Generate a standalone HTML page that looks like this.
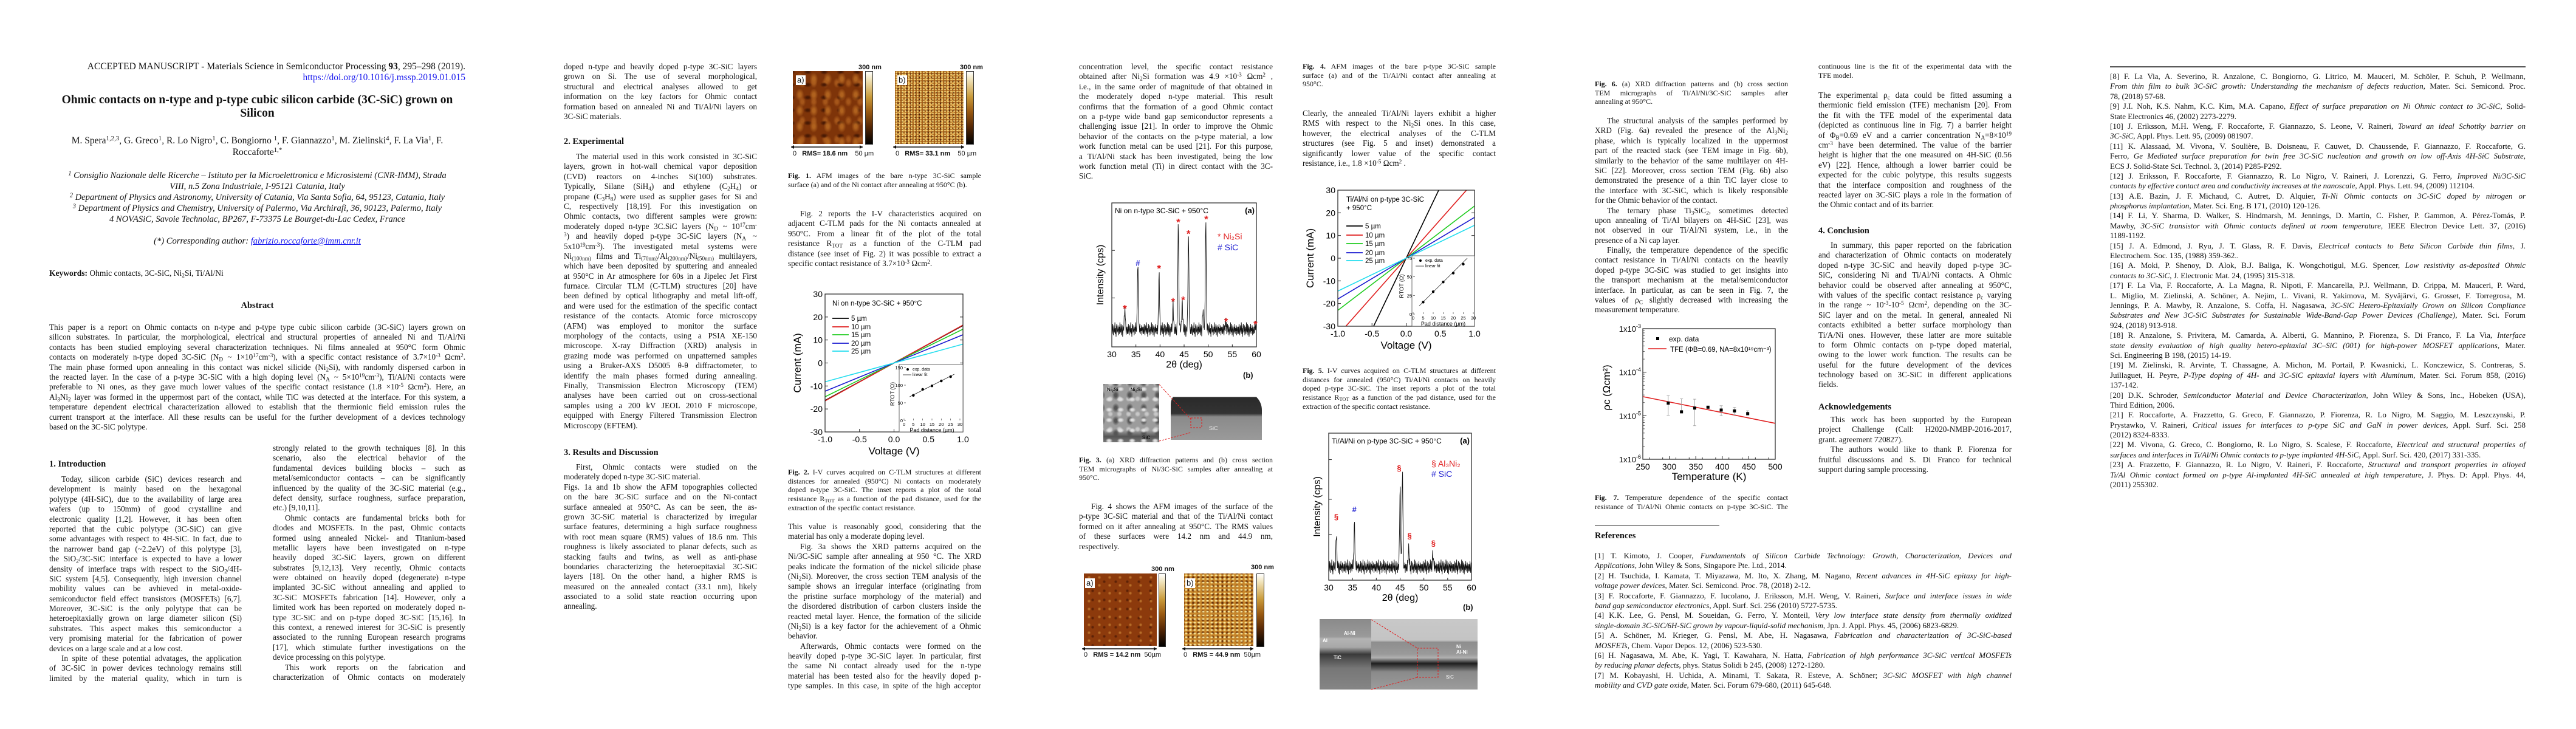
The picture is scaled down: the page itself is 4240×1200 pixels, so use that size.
<!DOCTYPE html>
<html><head><meta charset="utf-8"><title>Ohmic contacts on n-type and p-type 3C-SiC</title>
<style>
html,body{margin:0;padding:0;background:#fff;}
body{width:4240px;height:1200px;position:relative;overflow:hidden;font-family:"Liberation Serif",serif;color:#111;}
.col{position:absolute;font-size:13.2px;line-height:16.4px;}
.l{display:block;white-space:nowrap;text-align:justify;text-align-last:justify;height:16.4px;}
.e{text-align-last:left;}
.i{text-indent:20px;}
.cap{position:absolute;font-size:12px;line-height:14.7px;}
.cap .l{height:14.7px;}
.h{position:absolute;font-weight:bold;font-size:14.5px;line-height:16px;}
sub{font-size:70%;line-height:0;vertical-align:-0.25em;}
sup{font-size:70%;line-height:0;vertical-align:0.45em;}
.ctr{position:absolute;text-align:center;}
a{color:#1a1aee;}
.img{position:absolute;}
.lab{position:absolute;font-family:"Liberation Sans",sans-serif;font-size:11px;white-space:nowrap;}
.rms{position:absolute;font-family:"Liberation Sans",sans-serif;font-size:11px;font-weight:bold;white-space:nowrap;}
.tag{position:absolute;background:#fff;font-family:"Liberation Sans",sans-serif;font-size:13px;padding:0 2px;line-height:16px;}
.cbar{position:absolute;border:1px solid #333;background:linear-gradient(to bottom,#fff 0%,#f2e6c0 10%,#c99a3a 35%,#9a5a12 55%,#5a2a06 75%,#000 100%);}
</style></head>
<body>

<!-- PAGE 1 -->
<div class="ctr" style="left:81px;width:685px;top:101px;font-size:15.5px;line-height:18px;text-align:right;">ACCEPTED MANUSCRIPT - Materials Science in Semiconductor Processing <b>93</b>, 295–298 (2019).<br><a>https://doi.org/10.1016/j.mssp.2019.01.015</a></div>
<div class="ctr" style="left:81px;width:685px;top:154px;font-size:19.5px;line-height:22px;font-weight:bold;">Ohmic contacts on n-type and p-type cubic silicon carbide (3C-SiC) grown on<br>Silicon</div>
<div class="ctr" style="left:81px;width:685px;top:222px;font-size:15.5px;line-height:19px;">M. Spera<sup>1,2,3</sup>, G. Greco<sup>1</sup>, R. Lo Nigro<sup>1</sup>, C. Bongiorno <sup>1</sup>, F. Giannazzo<sup>1</sup>, M. Zielinski<sup>4</sup>, F. La Via<sup>1</sup>, F.<br>Roccaforte<sup>1,*</sup></div>
<div class="ctr" style="left:81px;width:685px;top:280px;font-size:14.6px;line-height:18px;font-style:italic;"><sup>1</sup> Consiglio Nazionale delle Ricerche – Istituto per la Microelettronica e Microsistemi (CNR-IMM), Strada<br>VIII, n.5 Zona Industriale, I-95121 Catania, Italy<br><sup>2</sup> Department of Physics and Astronomy, University of Catania, Via Santa Sofia, 64, 95123, Catania, Italy<br><sup>3</sup> Department of Physics and Chemistry, University of Palermo, Via Archirafi, 36, 90123, Palermo, Italy<br>4 NOVASiC, Savoie Technolac, BP267, F-73375 Le Bourget-du-Lac Cedex, France</div>
<div class="ctr" style="left:81px;width:685px;top:388px;font-size:14.6px;line-height:18px;font-style:italic;">(*) Corresponding author: <a style="text-decoration:underline;">fabrizio.roccaforte@imm.cnr.it</a></div>
<div class="col" style="left:81px;top:442px;font-size:13.5px;"><b>Keywords:</b> Ohmic contacts, 3C-SiC, Ni<sub>2</sub>Si, Ti/Al/Ni</div>
<div class="h" style="left:81px;width:685px;top:495px;text-align:center;">Abstract</div>
<div class="col" style="left:81px;width:685px;top:531px;line-height:16.7px;">
<span class="l">This paper is a report on Ohmic contacts on n-type and p-type type cubic silicon carbide (3C-SiC) layers grown on</span>
<span class="l">silicon substrates. In particular, the morphological, electrical and structural properties of annealed Ni and Ti/Al/Ni</span>
<span class="l">contacts has been studied employing several characterization techniques. Ni films annealed at 950°C form Ohmic</span>
<span class="l">contacts on moderately n-type doped 3C-SiC (N<sub>D</sub> ~ 1×10<sup>17</sup>cm<sup>-3</sup>), with a specific contact resistance of 3.7×10<sup>-3</sup> Ωcm<sup>2</sup>.</span>
<span class="l">The main phase formed upon annealing in this contact was nickel silicide (Ni<sub>2</sub>Si), with randomly dispersed carbon in</span>
<span class="l">the reacted layer. In the case of a p-type 3C-SiC with a high doping level (N<sub>A</sub> ~ 5×10<sup>19</sup>cm<sup>-3</sup>), Ti/Al/Ni contacts were</span>
<span class="l">preferable to Ni ones, as they gave much lower values of the specific contact resistance (1.8 ×10<sup>-5</sup> Ωcm<sup>2</sup>). Here, an</span>
<span class="l">Al<sub>3</sub>Ni<sub>2</sub> layer was formed in the uppermost part of the contact, while TiC was detected at the interface. For this system, a</span>
<span class="l">temperature dependent electrical characterization allowed to establish that the thermionic field emission rules the</span>
<span class="l">current transport at the interface. All these results can be useful for the further development of a devices technology</span>
<span class="l e">based on the 3C-SiC polytype.</span>
</div>
<div class="h" style="left:81px;top:756px;">1. Introduction</div>
<div class="col" style="left:81px;width:317px;top:781px;">
<span class="l i">Today, silicon carbide (SiC) devices research and</span>
<span class="l">development is mainly based on the hexagonal</span>
<span class="l">polytype (4H-SiC), due to the availability of large area</span>
<span class="l">wafers (up to 150mm) of good crystalline and</span>
<span class="l">electronic quality [1,2]. However, it has been often</span>
<span class="l">reported that the cubic polytype (3C-SiC) can give</span>
<span class="l">some advantages with respect to 4H-SiC. In fact, due to</span>
<span class="l">the narrower band gap (~2.2eV) of this polytype [3],</span>
<span class="l">the SiO<sub>2</sub>/3C-SiC interface is expected to have a lower</span>
<span class="l">density of interface traps with respect to the SiO<sub>2</sub>/4H-</span>
<span class="l">SiC system [4,5]. Consequently, high inversion channel</span>
<span class="l">mobility values can be avhieved in metal-oxide-</span>
<span class="l">semiconductor field effect transistors (MOSFETs) [6,7].</span>
<span class="l">Moreover, 3C-SiC is the only polytype that can be</span>
<span class="l">heteroepitaxially grown on large diameter silicon (Si)</span>
<span class="l">substrates. This aspect makes this semiconductor a</span>
<span class="l">very promising material for the fabrication of power</span>
<span class="l e">devices on a large scale and at a low cost.</span>
<span class="l i">In spite of these potential advatages, the application</span>
<span class="l">of 3C-SiC in power devices technology remains still</span>
<span class="l">limited by the material quality, which in turn is</span>
</div>
<div class="col" style="left:449px;width:317px;top:730px;">
<span class="l">strongly related to the growth techniques [8]. In this</span>
<span class="l">scenario, also the electrical behavior of the</span>
<span class="l">fundamental devices building blocks – such as</span>
<span class="l">metal/semiconductor contacts – can be significantly</span>
<span class="l">influenced by the quality of the 3C-SiC material (e.g.,</span>
<span class="l">defect density, surface roughness, surface preparation,</span>
<span class="l e">etc.) [9,10,11].</span>
<span class="l i">Ohmic contacts are fundamental bricks both for</span>
<span class="l">diodes and MOSFETs. In the past, Ohmic contacts</span>
<span class="l">formed using annealed Nickel- and Titanium-based</span>
<span class="l">metallic layers have been investigated on n-type</span>
<span class="l">heavily doped 3C-SiC layers, grown on different</span>
<span class="l">substrates [9,12,13]. Very recently, Ohmic contacts</span>
<span class="l">were obtained on heavily doped (degenerate) n-type</span>
<span class="l">implanted 3C-SiC without annealing and applied to</span>
<span class="l">3C-SiC MOSFETs fabrication [14]. However, only a</span>
<span class="l">limited work has been reported on moderately doped n-</span>
<span class="l">type 3C-SiC and on p-type doped 3C-SiC [15,16]. In</span>
<span class="l">this context, a renewed interest for 3C-SiC is presently</span>
<span class="l">associated to the running European research programs</span>
<span class="l">[17], which stimulate further investigations on the</span>
<span class="l e">device processing on this polytype.</span>
<span class="l i">This work reports on the fabrication and</span>
<span class="l">characterization of Ohmic contacts on moderately</span>
</div>

<!-- PAGE 2 -->
<div class="col" style="left:928px;width:318px;top:102px;">
<span class="l">doped n-type and heavily doped p-type 3C-SiC layers</span>
<span class="l">grown on Si. The use of several morphological,</span>
<span class="l">structural and electrical analyses allowed to get</span>
<span class="l">information on the key factors for Ohmic contact</span>
<span class="l">formation based on annealed Ni and Ti/Al/Ni layers on</span>
<span class="l e">3C-SiC materials.</span>
</div>
<div class="h" style="left:928px;top:225px;">2. Experimental</div>
<div class="col" style="left:928px;width:318px;top:250px;">
<span class="l i">The material used in this work consisted in 3C-SiC</span>
<span class="l">layers, grown in hot-wall chemical vapor deposition</span>
<span class="l">(CVD) reactors on 4-inches Si(100) substrates.</span>
<span class="l">Typically, Silane (SiH<sub>4</sub>) and ethylene (C<sub>2</sub>H<sub>4</sub>) or</span>
<span class="l">propane (C<sub>3</sub>H<sub>8</sub>) were used as supplier gases for Si and</span>
<span class="l">C, respectively [18,19]. For this investigation on</span>
<span class="l">Ohmic contacts, two different samples were grown:</span>
<span class="l">moderately doped n-type 3C.SiC layers (N<sub>D</sub> ~ 10<sup>17</sup>cm<sup>-</sup></span>
<span class="l"><sup>3</sup>) and heavily doped p-type 3C-SiC layers (N<sub>A</sub> ~</span>
<span class="l">5x10<sup>19</sup>cm<sup>-3</sup>). The investigated metal systems were</span>
<span class="l">Ni<sub>(100nm)</sub> films and Ti<sub>(70nm)</sub>/Al<sub>(200nm)</sub>/Ni<sub>(50nm)</sub> multilayers,</span>
<span class="l">which have been deposited by sputtering and annealed</span>
<span class="l">at 950°C in Ar atmosphere for 60s in a Jipelec Jet First</span>
<span class="l">furnace. Circular TLM (C-TLM) structures [20] have</span>
<span class="l">been defined by optical lithography and metal lift-off,</span>
<span class="l">and were used for the estimation of the specific contact</span>
<span class="l">resistance of the contacts. Atomic force microscopy</span>
<span class="l">(AFM) was employed to monitor the surface</span>
<span class="l">morphology of the contacts, using a PSIA XE-150</span>
<span class="l">microscope. X-ray Diffraction (XRD) analysis in</span>
<span class="l">grazing mode was performed on unpatterned samples</span>
<span class="l">using a Bruker-AXS D5005 θ-θ diffractometer, to</span>
<span class="l">identify the main phases formed during annealing.</span>
<span class="l">Finally, Transmission Electron Microscopy (TEM)</span>
<span class="l">analyses have been carried out on cross-sectional</span>
<span class="l">samples using a 200 kV JEOL 2010 F microscope,</span>
<span class="l">equipped with Energy Filtered Transmission Electron</span>
<span class="l e">Microscopy (EFTEM).</span>
</div>
<div class="h" style="left:928px;top:737px;">3. Results and Discussion</div>
<div class="col" style="left:928px;width:318px;top:761px;">
<span class="l i">First, Ohmic contacts were studied on the</span>
<span class="l e">moderately doped n-type 3C-SiC material.</span>
<span class="l">Figs. 1a and 1b show the AFM topographies collected</span>
<span class="l">on the bare 3C-SiC surface and on the Ni-contact</span>
<span class="l">surface annealed at 950°C. As can be seen, the as-</span>
<span class="l">grown 3C-SiC material is characterized by irregular</span>
<span class="l">surface features, determining a high surface roughness</span>
<span class="l">with root mean square (RMS) values of 18.6 nm. This</span>
<span class="l">roughness is likely associated to planar defects, such as</span>
<span class="l">stacking faults and twins, as well as anti-phase</span>
<span class="l">boundaries characterizing the heteroepitaxial 3C-SiC</span>
<span class="l">layers [18]. On the other hand, a higher RMS is</span>
<span class="l">measured on the annealed contact (33.1 nm), likely</span>
<span class="l">associated to a solid state reaction occurring upon</span>
<span class="l e">annealing.</span>
</div>

<!-- Fig 1 AFM -->
<div class="img" style="left:1305px;top:117px;width:115px;height:120px;background:radial-gradient(ellipse 6px 9px,#b0621e 2px,transparent 7px) 0 0/23px 26px,radial-gradient(ellipse 8px 5px,#4a1a04 2px,transparent 7px) 11px 12px/27px 21px,radial-gradient(ellipse 5px 7px,#a5561a 2px,transparent 6px) 6px 4px/19px 31px,#7e3409;"></div>
<div class="tag" style="left:1310px;top:124px;">a)</div>
<div class="cbar" style="left:1424px;top:117px;width:11px;height:119px;"></div>
<div class="rms" style="left:1413px;top:105px;">300 nm</div>
<div class="rms" style="left:1580px;top:105px;">300 nm</div>
<div class="img" style="left:1473px;top:117px;width:113px;height:120px;background:radial-gradient(circle,#f4d67c 0.8px,transparent 2px) 0 0/5px 4px,radial-gradient(circle,#4a1c04 0.8px,transparent 2px) 2px 2px/7px 6px,radial-gradient(circle,#e8b050 1.2px,transparent 2.5px) 1px 3px/9px 7px,#a45e18;"></div>
<div class="tag" style="left:1477px;top:124px;">b)</div>
<div class="cbar" style="left:1590px;top:117px;width:11px;height:119px;"></div>
<div class="rms" style="left:1305px;top:247px;"><span style="font-weight:normal">0</span>&nbsp;&nbsp;&nbsp;RMS= 18.6 nm&nbsp;&nbsp;&nbsp;&nbsp;<span style="font-weight:normal">50 µm</span></div>
<div class="rms" style="left:1474px;top:247px;"><span style="font-weight:normal">0</span>&nbsp;&nbsp;&nbsp;RMS= 33.1 nm&nbsp;&nbsp;&nbsp;&nbsp;<span style="font-weight:normal">50 µm</span></div>
<div class="cap" style="left:1297px;width:318px;top:282px;">
<span class="l"><b>Fig. 1.</b> AFM images of the bare n-type 3C-SiC sample</span>
<span class="l e">surface (a) and of the Ni contact after annealing at 950°C (b).</span>
</div>
<div class="col" style="left:1297px;width:318px;top:344px;">
<span class="l i">Fig. 2 reports the I-V characteristics acquired on</span>
<span class="l">adjacent C-TLM pads for the Ni contacts annealed at</span>
<span class="l">950°C. From a linear fit of the plot of the total</span>
<span class="l">resistance R<sub>TOT</sub> as a function of the C-TLM pad</span>
<span class="l">distance (see inset of Fig. 2) it was possible to extract a</span>
<span class="l e">specific contact resistance of 3.7×10<sup>-3</sup> Ωcm<sup>2</sup>.</span>
</div>
<div class="cap" style="left:1297px;width:318px;top:770px;">
<span class="l"><b>Fig. 2.</b> I-V curves acquired on C-TLM structures at different</span>
<span class="l">distances for annealed (950°C) Ni contacts on moderately</span>
<span class="l">doped n-type 3C-SiC. The inset reports a plot of the total</span>
<span class="l">resistance R<sub>TOT</sub> as a function of the pad distance, used for the</span>
<span class="l e">extraction of the specific contact resistance.</span>
</div>
<div class="col" style="left:1297px;width:318px;top:859px;">
<span class="l">This value is reasonably good, considering that the</span>
<span class="l e">material has only a moderate doping level.</span>
<span class="l i">Fig. 3a shows the XRD patterns acquired on the</span>
<span class="l">Ni/3C-SiC sample after annealing at 950 °C. The XRD</span>
<span class="l">peaks indicate the formation of the nickel silicide phase</span>
<span class="l">(Ni<sub>2</sub>Si). Moreover, the cross section TEM analysis of the</span>
<span class="l">sample shows an irregular interface (originating from</span>
<span class="l">the pristine surface morphology of the material) and</span>
<span class="l">the disordered distribution of carbon clusters inside the</span>
<span class="l">reacted metal layer. Hence, the formation of the silicide</span>
<span class="l">(Ni<sub>2</sub>Si) is a key factor for the achievement of a Ohmic</span>
<span class="l e">behavior.</span>
<span class="l i">Afterwards, Ohmic contacts were formed on the</span>
<span class="l">heavily doped p-type 3C-SiC layer. In particular, first</span>
<span class="l">the same Ni contact already used for the n-type</span>
<span class="l">material has been tested also for the heavily doped p-</span>
<span class="l">type samples. In this case, in spite of the high acceptor</span>
</div>

<!-- PAGE 3 -->
<div class="col" style="left:1776px;width:319px;top:102px;">
<span class="l">concentration level, the specific contact resistance</span>
<span class="l">obtained after Ni<sub>2</sub>Si formation was 4.9 ×10<sup>-3</sup> Ωcm<sup>2</sup> ,</span>
<span class="l">i.e., in the same order of magnitude of that obtained in</span>
<span class="l">the moderately doped n-type material. This result</span>
<span class="l">confirms that the formation of a good Ohmic contact</span>
<span class="l">on a p-type wide band gap semiconductor represents a</span>
<span class="l">challenging issue [21]. In order to improve the Ohmic</span>
<span class="l">behavior of the contacts on the p-type material, a low</span>
<span class="l">work function metal can be used [21]. For this purpose,</span>
<span class="l">a Ti/Al/Ni stack has been investigated, being the low</span>
<span class="l">work function metal (Ti) in direct contact with the 3C-</span>
<span class="l e">SiC.</span>
</div>
<div class="img" style="left:1816px;top:632px;width:92px;height:96px;background:radial-gradient(ellipse 7px 5px,#e0e0e0 2px,transparent 6px) 0 0/19px 17px,radial-gradient(ellipse 6px 8px,#555 2px,transparent 6px) 9px 8px/23px 21px,radial-gradient(ellipse 5px 5px,#c8c8c8 2px,transparent 5px) 4px 12px/15px 25px,linear-gradient(to bottom,#9c9c9c 0,#9c9c9c 80%,#555 90%,#777 100%);"></div>
<div class="lab" style="left:1822px;top:637px;font-size:8px;font-weight:bold;">Ni<sub>2</sub>Si&nbsp;&nbsp;&nbsp;&nbsp;&nbsp;&nbsp;&nbsp;&nbsp;&nbsp;Ni<sub>2</sub>Si</div>
<div class="lab" style="left:1880px;top:716px;font-size:8px;font-weight:bold;">SiC</div>
<div class="img" style="left:1927px;top:645px;width:150px;height:79px;background:linear-gradient(to bottom,transparent 0,transparent 8px,#2a2a2a 9px,#333 45%,#8a8a8a 52%,#9a9a9a 100%);border-radius:20px 30px 0 0;"></div>
<div class="lab" style="left:1990px;top:700px;color:#eee;font-size:9px;">SiC</div>
<div class="lab" style="left:2046px;top:610px;font-size:13px;font-weight:bold;">(b)</div>
<div class="cap" style="left:1776px;width:319px;top:750px;">
<span class="l"><b>Fig. 3.</b> (a) XRD diffraction patterns and (b) cross section</span>
<span class="l">TEM micrographs of Ni/3C-SiC samples after annealing at</span>
<span class="l e">950°C.</span>
</div>
<div class="col" style="left:1776px;width:319px;top:826px;">
<span class="l i">Fig. 4 shows the AFM images of the surface of the</span>
<span class="l">p-type 3C-SiC material and that of the Ti/Al/Ni contact</span>
<span class="l">formed on it after annealing at 950°C. The RMS values</span>
<span class="l">of these surfaces were 14.2 nm and 44.9 nm,</span>
<span class="l e">respectively.</span>
</div>
<div class="img" style="left:1784px;top:944px;width:120px;height:119px;background:radial-gradient(circle,#b8702a 1px,transparent 3px) 0 0/17px 13px,radial-gradient(circle,#5a2006 1px,transparent 3px) 5px 6px/19px 15px,#8c3a0c;"></div>
<div class="tag" style="left:1786px;top:952px;">a)</div>
<div class="cbar" style="left:1907px;top:944px;width:10px;height:119px;"></div>
<div class="img" style="left:1949px;top:944px;width:114px;height:119px;background:radial-gradient(ellipse 3px 2px,#fbeaa0 1px,transparent 3px) 0 0/7px 6px,radial-gradient(circle,#6a3006 1px,transparent 3px) 3px 3px/8px 7px,#c8862a;"></div>
<div class="tag" style="left:1951px;top:952px;">b)</div>
<div class="cbar" style="left:2068px;top:944px;width:11px;height:119px;"></div>
<div class="rms" style="left:1895px;top:931px;">300 nm</div>
<div class="rms" style="left:2059px;top:928px;">300 nm</div>
<div class="rms" style="left:1784px;top:1072px;"><span style="font-weight:normal">0</span>&nbsp;&nbsp;&nbsp;RMS = 14.2 nm&nbsp;&nbsp;<span style="font-weight:normal">50µm</span></div>
<div class="rms" style="left:1948px;top:1072px;"><span style="font-weight:normal">0</span>&nbsp;&nbsp;&nbsp;RMS = 44.9 nm&nbsp;&nbsp;<span style="font-weight:normal">50µm</span></div>

<div class="cap" style="left:2144px;width:318px;top:102px;">
<span class="l"><b>Fig. 4.</b> AFM images of the bare p-type 3C-SiC sample</span>
<span class="l">surface (a) and of the Ti/Al/Ni contact after annealing at</span>
<span class="l e">950°C.</span>
</div>
<div class="col" style="left:2144px;width:318px;top:179px;">
<span class="l">Clearly, the annealed Ti/Al/Ni layers exhibit a higher</span>
<span class="l">RMS with respect to the Ni<sub>2</sub>Si ones. In this case,</span>
<span class="l">however, the electrical analyses of the C-TLM</span>
<span class="l">structures (see Fig. 5 and inset) demonstrated a</span>
<span class="l">significantly lower value of the specific contact</span>
<span class="l e">resistance, i.e., 1.8 ×10<sup>-5</sup> Ωcm<sup>2</sup> .</span>
</div>
<div class="cap" style="left:2144px;width:318px;top:603px;">
<span class="l"><b>Fig. 5.</b> I-V curves acquired on C-TLM structures at different</span>
<span class="l">distances for annealed (950°C) Ti/Al/Ni contacts on heavily</span>
<span class="l">doped p-type 3C-SiC. The inset reports a plot of the total</span>
<span class="l">resistance R<sub>TOT</sub> as a function of the pad distance, used for the</span>
<span class="l e">extraction of the specific contact resistance.</span>
</div>
<div class="lab" style="left:2408px;top:992px;font-size:13px;font-weight:bold;">(b)</div>
<div class="img" style="left:2172px;top:1019px;width:85px;height:116px;background:linear-gradient(to bottom,#8a8a8a 0,#9a9a9a 25%,#b4b4b4 28%,#a8a8a8 40%,#3a3a3a 50%,#555 58%,#777 70%,#858585 100%);"></div>
<div class="img" style="left:2257px;top:1019px;width:175px;height:116px;background:linear-gradient(to bottom,#c8c8c8 0,#c4c4c4 30%,#8e8e8e 33%,#9a9a9a 50%,#b0b0b0 55%,#1e1e1e 63%,#4a4a4a 68%,#8a8a8a 75%,#9c9c9c 100%);"></div>
<div class="lab" style="left:2212px;top:1038px;color:#fff;font-size:8px;font-weight:bold;">Al-Ni</div>
<div class="lab" style="left:2177px;top:1050px;color:#fff;font-size:8px;font-weight:bold;">Al</div>
<div class="lab" style="left:2195px;top:1078px;color:#fff;font-size:8px;font-weight:bold;">TiC</div>
<div class="lab" style="left:2380px;top:1110px;color:#fff;font-size:8px;">SiC</div>
<div class="lab" style="left:2397px;top:1060px;color:#fff;font-size:8px;font-weight:bold;">Ni<br>Al-Ni</div>

<!-- PAGE 4 -->
<div class="cap" style="left:2625px;width:318px;top:131px;">
<span class="l"><b>Fig. 6.</b> (a) XRD diffraction patterns and (b) cross section</span>
<span class="l">TEM micrographs of Ti/Al/Ni/3C-SiC samples after</span>
<span class="l e">annealing at 950°C.</span>
</div>
<div class="col" style="left:2625px;width:318px;top:191px;">
<span class="l i">The structural analysis of the samples performed by</span>
<span class="l">XRD (Fig. 6a) revealed the presence of the Al<sub>3</sub>Ni<sub>2</sub></span>
<span class="l">phase, which is typically localized in the uppermost</span>
<span class="l">part of the reacted stack (see TEM image in Fig. 6b),</span>
<span class="l">similarly to the behavior of the same multilayer on 4H-</span>
<span class="l">SiC [22]. Moreover, cross section TEM (Fig. 6b) also</span>
<span class="l">demonstrated the presence of a thin TiC layer close to</span>
<span class="l">the interface with 3C-SiC, which is likely responsible</span>
<span class="l e">for the Ohmic behavior of the contact.</span>
<span class="l i">The ternary phase Ti<sub>3</sub>SiC<sub>2</sub>, sometimes detected</span>
<span class="l">upon annealing of Ti/Al bilayers on 4H-SiC [23], was</span>
<span class="l">not observed in our Ti/Al/Ni system, i.e., in the</span>
<span class="l e">presence of a Ni cap layer.</span>
<span class="l i">Finally, the temperature dependence of the specific</span>
<span class="l">contact resistance in Ti/Al/Ni contacts on the heavily</span>
<span class="l">doped p-type 3C-SiC was studied to get insights into</span>
<span class="l">the transport mechanism at the metal/semiconductor</span>
<span class="l">interface. In particular, as can be seen in Fig. 7, the</span>
<span class="l">values of ρ<sub>C</sub> slightly decreased with increasing the</span>
<span class="l e">measurement temperature.</span>
</div>
<div class="cap" style="left:2625px;width:318px;top:812px;">
<span class="l"><b>Fig. 7.</b> Temperature dependence of the specific contact</span>
<span class="l">resistance of Ti/Al/Ni Ohmic contacts on p-type 3C-SiC. The</span>
</div>
<div style="position:absolute;left:2625px;top:865px;width:205px;height:1px;background:#333;"></div>
<div class="h" style="left:2625px;top:874px;">References</div>
<div class="col" style="left:2625px;width:686px;top:907px;font-size:13px;">
<span class="l">[1] T. Kimoto, J. Cooper, <i>Fundamentals of Silicon Carbide Technology: Growth, Characterization, Devices and</i></span>
<span class="l e"><i>Applications</i>, John Wiley &amp; Sons, Singapore Pte. Ltd., 2014.</span>
<span class="l">[2] H. Tsuchida, I. Kamata, T. Miyazawa, M. Ito, X. Zhang, M. Nagano, <i>Recent advances in 4H-SiC epitaxy for high-</i></span>
<span class="l e"><i>voltage power devices</i>, Mater. Sci. Semicond. Proc. 78, (2018) 2-12.</span>
<span class="l">[3] F. Roccaforte, F. Giannazzo, F. Iucolano, J. Eriksson, M.H. Weng, V. Raineri, <i>Surface and interface issues in wide</i></span>
<span class="l e"><i>band gap semiconductor electronics</i>, Appl. Surf. Sci. 256 (2010) 5727-5735.</span>
<span class="l">[4] K.K. Lee, G. Pensl, M. Soueidan, G. Ferro, Y. Monteil, <i>Very low interface state density from thermally oxidized</i></span>
<span class="l e"><i>single-domain 3C-SiC/6H-SiC grown by vapour-liquid-solid mechanism</i>, Jpn. J. Appl. Phys. 45, (2006) 6823-6829.</span>
<span class="l">[5] A. Schöner, M. Krieger, G. Pensl, M. Abe, H. Nagasawa, <i>Fabrication and characterization of 3C-SiC-based</i></span>
<span class="l e"><i>MOSFETs</i>, Chem. Vapor Depos. 12, (2006) 523-530.</span>
<span class="l">[6] H. Nagasawa, M. Abe, K. Yagi, T. Kawahara, N. Hatta, <i>Fabrication of high performance 3C-SiC vertical MOSFETs</i></span>
<span class="l e"><i>by reducing planar defects</i>, phys. Status Solidi b 245, (2008) 1272-1280.</span>
<span class="l">[7] M. Kobayashi, H. Uchida, A. Minami, T. Sakata, R. Esteve, A. Schöner; <i>3C-SiC MOSFET with high channel</i></span>
<span class="l e"><i>mobility and CVD gate oxide</i>, Mater. Sci. Forum 679-680, (2011) 645-648.</span>
</div>

<div class="cap" style="left:2993px;width:318px;top:102px;">
<span class="l">continuous line is the fit of the experimental data with the</span>
<span class="l e">TFE model.</span>
</div>
<div class="col" style="left:2993px;width:318px;top:149px;">
<span class="l">The experimental ρ<sub>c</sub> data could be fitted assuming a</span>
<span class="l">thermionic field emission (TFE) mechanism [20]. From</span>
<span class="l">the fit with the TFE model of the experimental data</span>
<span class="l">(depicted as continuous line in Fig. 7) a barrier height</span>
<span class="l">of Φ<sub>B</sub>=0.69 eV and a carrier concentration N<sub>A</sub>=8×10<sup>19</sup></span>
<span class="l">cm<sup>-3</sup> have been determined. The value of the barrier</span>
<span class="l">height is higher that the one measured on 4H-SiC (0.56</span>
<span class="l">eV) [22]. Hence, although a lower barrier could be</span>
<span class="l">expected for the cubic polytype, this results suggests</span>
<span class="l">that the interface composition and roughness of the</span>
<span class="l">reacted layer on 3C-SiC plays a role in the formation of</span>
<span class="l e">the Ohmic contact and of its barrier.</span>
</div>
<div class="h" style="left:2993px;top:372px;">4. Conclusion</div>
<div class="col" style="left:2993px;width:318px;top:396px;">
<span class="l i">In summary, this paper reported on the fabrication</span>
<span class="l">and characterization of Ohmic contacts on moderately</span>
<span class="l">doped n-type 3C-SiC and heavily doped p-type 3C-</span>
<span class="l">SiC, considering Ni and Ti/Al/Ni contacts. A Ohmic</span>
<span class="l">behavior could be observed after annealing at 950°C,</span>
<span class="l">with values of the specific contact resistance ρ<sub>c</sub> varying</span>
<span class="l">in the range ~ 10<sup>-3</sup>-10<sup>-5</sup> Ωcm<sup>2</sup>, depending on the 3C-</span>
<span class="l">SiC layer and on the metal. In general, annealed Ni</span>
<span class="l">contacts exhibited a better surface morphology than</span>
<span class="l">Ti/A/Ni ones. However, these latter are more suitable</span>
<span class="l">to form Ohmic contacts on p-type doped material,</span>
<span class="l">owing to the lower work function. The results can be</span>
<span class="l">useful for the future development of the devices</span>
<span class="l">technology based on 3C-SiC in different applications</span>
<span class="l e">fields.</span>
</div>
<div class="h" style="left:2993px;top:662px;">Acknowledgements</div>
<div class="col" style="left:2993px;width:318px;top:683px;">
<span class="l i">This work has been supported by the European</span>
<span class="l">project Challenge (Call: H2020-NMBP-2016-2017,</span>
<span class="l e">grant. agreement 720827).</span>
<span class="l i">The authors would like to thank P. Fiorenza for</span>
<span class="l">fruitful discussions and S. Di Franco for technical</span>
<span class="l e">support during sample processing.</span>
</div>

<!-- PAGE 5 -->
<div style="position:absolute;left:3473px;top:109px;width:684px;height:2px;background:#555;"></div>
<div class="col" style="left:3473px;width:684px;top:118px;font-size:13px;">
<span class="l">[8] F. La Via, A. Severino, R. Anzalone, C. Bongiorno, G. Litrico, M. Mauceri, M. Schöler, P. Schuh, P. Wellmann,</span>
<span class="l"><i>From thin film to bulk 3C-SiC growth: Understanding the mechanism of defects reduction</i>, Mater. Sci. Semicond. Proc.</span>
<span class="l e">78, (2018) 57-68.</span>
<span class="l">[9] J.I. Noh, K.S. Nahm, K.C. Kim, M.A. Capano, <i>Effect of surface preparation on Ni Ohmic contact to 3C-SiC</i>, Solid-</span>
<span class="l e">State Electronics 46, (2002) 2273-2279.</span>
<span class="l">[10] J. Eriksson, M.H. Weng, F. Roccaforte, F. Giannazzo, S. Leone, V. Raineri, <i>Toward an ideal Schottky barrier on</i></span>
<span class="l e"><i>3C-SiC</i>, Appl. Phys. Lett. 95, (2009) 081907.</span>
<span class="l">[11] K. Alassaad, M. Vivona, V. Soulière, B. Doisneau, F. Cauwet, D. Chaussende, F. Giannazzo, F. Roccaforte, G.</span>
<span class="l">Ferro, <i>Ge Mediated surface preparation for twin free 3C-SiC nucleation and growth on low off-Axis 4H-SiC Substrate</i>,</span>
<span class="l e">ECS J. Solid-State Sci. Technol. 3, (2014) P285-P292.</span>
<span class="l">[12] J. Eriksson, F. Roccaforte, F. Giannazzo, R. Lo Nigro, V. Raineri, J. Lorenzzi, G. Ferro, <i>Improved Ni/3C-SiC</i></span>
<span class="l e"><i>contacts by effective contact area and conductivity increases at the nanoscale</i>, Appl. Phys. Lett. 94, (2009) 112104.</span>
<span class="l">[13] A.E. Bazin, J. F. Michaud, C. Autret, D. Alquier, <i>Ti-Ni Ohmic contacts on 3C-SiC doped by nitrogen or</i></span>
<span class="l e"><i>phosphorus implantation</i>, Mater. Sci. Eng. B 171, (2010) 120-126.</span>
<span class="l">[14] F. Li, Y. Sharma, D. Walker, S. Hindmarsh, M. Jennings, D. Martin, C. Fisher, P. Gammon, A. Pérez-Tomás, P.</span>
<span class="l">Mawby, <i>3C-SiC transistor with Ohmic contacts defined at room temperature</i>, IEEE Electron Device Lett. 37, (2016)</span>
<span class="l e">1189-1192.</span>
<span class="l">[15] J. A. Edmond, J. Ryu, J. T. Glass, R. F. Davis, <i>Electrical contacts to Beta Silicon Carbide thin films</i>, J.</span>
<span class="l e">Electrochem. Soc. 135, (1988) 359-362..</span>
<span class="l">[16] A. Moki, P. Shenoy, D. Alok, B.J. Baliga, K. Wongchotigul, M.G. Spencer, <i>Low resistivity as-deposited Ohmic</i></span>
<span class="l e"><i>contacts to 3C-SiC</i>, J. Electronic Mat. 24, (1995) 315-318.</span>
<span class="l">[17] F. La Via, F. Roccaforte, A. La Magna, R. Nipoti, F. Mancarella, P.J. Wellmann, D. Crippa, M. Mauceri, P. Ward,</span>
<span class="l">L. Miglio, M. Zielinski, A. Schöner, A. Nejim, L. Vivani, R. Yakimova, M. Syväjärvi, G. Grosset, F. Torregrosa, M.</span>
<span class="l">Jennings, P. A. Mawby, R. Anzalone, S. Coffa, H. Nagasawa, <i>3C-SiC Hetero-Epitaxially Grown on Silicon Compliance</i></span>
<span class="l"><i>Substrates and New 3C-SiC Substrates for Sustainable Wide-Band-Gap Power Devices (Challenge)</i>, Mater. Sci. Forum</span>
<span class="l e">924, (2018) 913-918.</span>
<span class="l">[18] R. Anzalone, S. Privitera, M. Camarda, A. Alberti, G. Mannino, P. Fiorenza, S. Di Franco, F. La Via, <i>Interface</i></span>
<span class="l"><i>state density evaluation of high quality hetero-epitaxial 3C–SiC (001) for high-power MOSFET applications</i>, Mater.</span>
<span class="l e">Sci. Engineering B 198, (2015) 14-19.</span>
<span class="l">[19] M. Zielinski, R. Arvinte, T. Chassagne, A. Michon, M. Portail, P. Kwasnicki, L. Konczewicz, S. Contreras, S.</span>
<span class="l">Juillaguet, H. Peyre, <i>P-Type doping of 4H- and 3C-SiC epitaxial layers with Aluminum</i>, Mater. Sci. Forum 858, (2016)</span>
<span class="l e">137-142.</span>
<span class="l">[20] D.K. Schroder, <i>Semiconductor Material and Device Characterization</i>, John Wiley &amp; Sons, Inc., Hobeken (USA),</span>
<span class="l e">Third Edition, 2006.</span>
<span class="l">[21] F. Roccaforte, A. Frazzetto, G. Greco, F. Giannazzo, P. Fiorenza, R. Lo Nigro, M. Saggio, M. Leszczynski, P.</span>
<span class="l">Prystawko, V. Raineri, <i>Critical issues for interfaces to p-type SiC and GaN in power devices</i>, Appl. Surf. Sci. 258</span>
<span class="l e">(2012) 8324-8333.</span>
<span class="l">[22] M. Vivona, G. Greco, C. Bongiorno, R. Lo Nigro, S. Scalese, F. Roccaforte, <i>Electrical and structural properties of</i></span>
<span class="l e"><i>surfaces and interfaces in Ti/Al/Ni Ohmic contacts to p-type implanted 4H-SiC</i>, Appl. Surf. Sci. 420, (2017) 331-335.</span>
<span class="l">[23] A. Frazzetto, F. Giannazzo, R. Lo Nigro, V. Raineri, F. Roccaforte, <i>Structural and transport properties in alloyed</i></span>
<span class="l"><i>Ti/Al Ohmic contact formed on p-type Al-implanted 4H-SiC annealed at high temperature</i>, J. Phys. D: Appl. Phys. 44,</span>
<span class="l e">(2011) 255302.</span>
</div>

<svg id="charts" width="4240" height="1200" style="position:absolute;left:0;top:0;" font-family="Liberation Sans, sans-serif"></svg>

<script>
// ---- Fig. 2 data (Ni on n-type) ----
const ivVoltageRange = [-1, 1];
const ivCurrentTicks = [-30, -20, -10, 0, 10, 20, 30];
const ivVoltageTicks = [-1.0, -0.5, 0.0, 0.5, 1.0];
const padLabels = ['5 µm', '10 µm', '15 µm', '20 µm', '25 µm'];
const fig2Slopes = [16.3, 16.5, 14.7, 12.3, 8.2];
const padDistance = [5, 10, 15, 20, 25];
const fig2Rtot = [71, 88, 98, 112, 124];
const fig2FitX = [3, 27];
const fig2FitR = [67, 131];
const fig2InsetYTicks = [0, 50, 100, 150];
// ---- Fig. 5 data (Ti/Al/Ni on p-type) ----
const fig5Slopes = [63, 34, 23, 18, 14.5];
const fig5Rtot = [16, 30, 43, 55, 67];
const fig5FitX = [3, 27];
const fig5FitR = [11, 75];
const fig5InsetYTicks = [0, 25, 50, 75];
const insetXTicks = [0, 5, 10, 15, 20, 25, 30];
// ---- Fig. 3a XRD (Ni/n-type) ----
const xrdTwoThetaTicks = [30, 35, 40, 45, 50, 55, 60];
const xrdNPeakPos = [32.7, 35.4, 39.8, 42.7, 43.8, 44.6, 45.9, 48.9, 49.5, 53.7, 59.8];
const xrdNPeakHeight = [15, 44, 41, 18, 74, 20, 67, 12, 76, 5, 4];
const xrdNMarkerPos = [32.7, 35.4, 39.8, 42.7, 43.8, 44.8, 45.9, 49.6, 53.7, 59.8];
const xrdNMarkerType = ['star', 'hash', 'star', 'star', 'star', 'star', 'star', 'star', 'star', 'star'];
const xrdNMarkerLevel = [28, 58, 56, 33, 88, 34, 80, 90, 19, 17];
const xrdNBaseline = 12;
// ---- Fig. 6a XRD (Ti/Al/Ni/p-type) ----
const xrdPPeakPos = [31.6, 35.4, 45.0, 45.5, 46.8, 51.9];
const xrdPPeakHeight = [22, 30, 55, 64, 13, 10];
const xrdPMarkerPos = [31.6, 35.4, 44.8, 47.0, 52.0];
const xrdPMarkerType = ['sect', 'hash', 'sect', 'sect', 'sect'];
const xrdPMarkerLevel = [43, 48, 76, 30, 25];
const xrdPBaseline = 9;
const xrdNoise = [2, -3, 4, -1, -4, 3, 0, -2, 5, -3, 1, -5, 2, 4, -2, -1, 3, -4, 0, 2, -3, 5, -1, -2, 4, -4, 1, 3, -5, 0, 2, -2, 4, -3, 1, -1, 3, -4, 2, 0, -3];
// ---- Fig. 7 data ----
const tempK = [298, 323, 348, 373, 398, 423, 448];
const rhoC = [1.95e-5, 1.23e-5, 1.5e-5, 1.57e-5, 1.35e-5, 1.29e-5, 1.12e-5];
const rhoErrUp = [2.9e-5, 2.45e-5, 2.4e-5, 1.65e-5, 1.7e-5, 1.55e-5, 1.3e-5];
const rhoErrDown = [1.03e-5, 1.23e-5, 5.9e-6, 1.5e-5, 1.0e-5, 1.05e-5, 1.03e-5];
const fitTemp = [250, 500];
const fitRho = [2.75e-5, 6.7e-6];
const tempTicks = [250, 300, 350, 400, 450, 500];
const rhoDecades = [-6, -5, -4, -3];

const svg = document.getElementById('charts');
const NS = 'http://www.w3.org/2000/svg';
const pad = ['#000', '#e02020', '#20cc20', '#1a1ad0', '#22ddee'];
function mk(tag, attrs, parent) {
  const e = document.createElementNS(NS, tag);
  for (const k in attrs) e.setAttribute(k, attrs[k]);
  (parent || svg).appendChild(e);
  return e;
}
function txt(x, y, s, size, anchor, parent) {
  const t = mk('text', {x: x, y: y, 'font-size': size, 'text-anchor': anchor || 'start'}, parent);
  t.textContent = s;
  return t;
}
function lin(d0, d1, r0, r1) { return v => r0 + (v - d0) / (d1 - d0) * (r1 - r0); }

function ivChart(id, box, slopes, title, legY, legX, inset, rtot, fitX, fitR, insetTicks) {
  const g = mk('g', {});
  
  
  const xs = lin(ivVoltageRange[0], ivVoltageRange[1], box.x0, box.x1);
  const ys = lin(-30, 30, box.y1, box.y0);
  const cp = mk('clipPath', {id: id + 'clip'}, g);
  mk('rect', {x: box.x0, y: box.y0, width: box.x1 - box.x0, height: box.y1 - box.y0}, cp);
  const lines = mk('g', {'clip-path': 'url(#' + id + 'clip)'}, g);
  slopes.forEach((s, i) => {
    const ln = mk('line', {x1: xs(-1), y1: ys(-s), x2: xs(1), y2: ys(s), stroke: pad[i], 'stroke-width': 1.6}, lines);
    
    
  });
  mk('rect', {x: box.x0, y: box.y0, width: box.x1 - box.x0, height: box.y1 - box.y0, fill: 'none', stroke: '#222', 'stroke-width': 1.2}, g);
  ivVoltageTicks.forEach(v => {
    mk('line', {x1: xs(v), y1: box.y1, x2: xs(v), y2: box.y1 - 5, stroke: '#222'}, g);
    const t = txt(xs(v), box.y1 + 17, v.toFixed(1), 14, 'middle', g);
    
    
  });
  ivCurrentTicks.forEach(v => {
    mk('line', {x1: box.x0, y1: ys(v), x2: box.x0 + 5, y2: ys(v), stroke: '#222'}, g);
    mk('line', {x1: box.x1, y1: ys(v), x2: box.x1 - 5, y2: ys(v), stroke: '#222'}, g);
    const t = txt(box.x0 - 4, ys(v) + 5, String(v), 14, 'end', g);
    
    
  });
  const yt = txt(0, 0, 'Current (mA)', 17, 'middle', g);
  yt.setAttribute('transform', 'translate(' + (box.x0 - 40) + ',' + ((box.y0 + box.y1) / 2) + ') rotate(-90)');
  
  
  const xt = txt((box.x0 + box.x1) / 2, box.y1 + 37, 'Voltage (V)', 17, 'middle', g);
  
  
  title.forEach((s, i) => { txt(legX, box.y0 + 19 + i * 14, s, 11.5, 'start', g); });
  padLabels.forEach((s, i) => {
    const le = mk('g', {}, g);
    
    
    mk('line', {x1: legX, y1: legY[i], x2: legX + 27, y2: legY[i], stroke: pad[i], 'stroke-width': 1.8}, le);
    txt(legX + 31, legY[i] + 4, s, 11.5, 'start', le);
  });
  const ig = mk('g', {}, g);
  
  
  mk('rect', {x: inset.fx0, y: inset.fy0, width: inset.fx1 - inset.fx0, height: inset.fy1 - inset.fy0, fill: '#fff', stroke: '#444', 'stroke-width': 0.8}, ig);
  const ixs = lin(0, 30, inset.x0, inset.x1);
  const iys = lin(0, insetTicks[insetTicks.length - 1], inset.y0, inset.y1);
  insetXTicks.forEach(v => {
    mk('line', {x1: ixs(v), y1: inset.y0, x2: ixs(v), y2: inset.y0 - 3, stroke: '#444', 'stroke-width': 0.7}, ig);
    txt(ixs(v), inset.y0 + 9, String(v), 7.5, 'middle', ig);
  });
  insetTicks.forEach(v => {
    mk('line', {x1: inset.x0, y1: iys(v), x2: inset.x0 + 3, y2: iys(v), stroke: '#444', 'stroke-width': 0.7}, ig);
    txt(inset.x0 - 2, iys(v) + 3, String(v), 7.5, 'end', ig);
  });
  mk('line', {x1: ixs(fitX[0]), y1: iys(fitR[0]), x2: ixs(fitX[1]), y2: iys(fitR[1]), stroke: '#222', 'stroke-width': 0.8}, ig);
  rtot.forEach((r, i) => {
    const c = mk('circle', {cx: ixs(padDistance[i]), cy: iys(r), r: 2.2, fill: '#000'}, ig);
    
    
  });
  mk('circle', {cx: inset.fx0 + 14, cy: inset.fy0 + 8, r: 2, fill: '#000'}, ig);
  txt(inset.fx0 + 22, inset.fy0 + 10, 'exp. data', 7, 'start', ig);
  mk('line', {x1: inset.fx0 + 6, y1: inset.fy0 + 17, x2: inset.fx0 + 20, y2: inset.fy0 + 17, stroke: '#222', 'stroke-width': 0.8}, ig);
  txt(inset.fx0 + 22, inset.fy0 + 19, 'linear fit', 7, 'start', ig);
  const ry = txt(0, 0, 'RTOT (Ω)', 9, 'middle', ig);
  ry.setAttribute('transform', 'translate(' + (inset.x0 - 16) + ',' + ((inset.y0 + inset.y1) / 2) + ') rotate(-90)');
  txt((inset.x0 + inset.x1) / 2, inset.y0 + 19, 'Pad distance (µm)', 9, 'middle', ig);
}

ivChart('fig2', {x0: 1358, x1: 1585, y0: 484, y1: 711}, fig2Slopes, ['Ni on n-type 3C-SiC + 950°C'],
  [524, 538, 551, 565, 578], 1370,
  {fx0: 1480, fx1: 1585, fy0: 600, fy1: 711, x0: 1488, x1: 1580, y0: 692, y1: 605},
  fig2Rtot, fig2FitX, fig2FitR, fig2InsetYTicks);
ivChart('fig5', {x0: 2202, x1: 2427, y0: 313, y1: 537}, fig5Slopes, ['Ti/Al/Ni on p-type 3C-SiC', '+ 950°C'],
  [372, 387, 401, 416, 429], 2216,
  {fx0: 2324, fx1: 2427, fy0: 421, fy1: 537, x0: 2326, x1: 2425, y0: 517, y1: 425},
  fig5Rtot, fig5FitX, fig5FitR, fig5InsetYTicks);

function xrdChart(id, box, peakPos, peakHeight, baseline, markPos, markType, markLevel, title, legend, ticksY) {
  const g = mk('g', {});
  
  
  const xs = lin(30, 60, box.x0, box.x1);
  const ys = lin(0, 100, box.y1, box.y0);
  let pts = [];
  for (let i = 0; i <= 375; i++) {
    const t = 30 + i * 0.08;
    let v = baseline + xrdNoise[i % xrdNoise.length];
    peakPos.forEach((p, k) => { v += peakHeight[k] * Math.exp(-Math.pow((t - p) / 0.14, 2)); });
    pts.push(xs(t).toFixed(1) + ',' + ys(v).toFixed(1));
  }
  const pl = mk('polyline', {points: pts.join(' '), fill: 'none', stroke: '#111', 'stroke-width': 0.9}, g);
  
  
  mk('rect', {x: box.x0, y: box.y0, width: box.x1 - box.x0, height: box.y1 - box.y0, fill: 'none', stroke: '#222', 'stroke-width': 1.2}, g);
  xrdTwoThetaTicks.forEach(v => {
    mk('line', {x1: xs(v), y1: box.y1, x2: xs(v), y2: box.y1 - 4, stroke: '#222'}, g);
    const t = txt(xs(v), box.y1 + 17, String(v), 14, 'middle', g);
    
    
  });
  ticksY.forEach(v => { mk('line', {x1: box.x0, y1: ys(v), x2: box.x0 + 5, y2: ys(v), stroke: '#222'}, g); });
  const xt = txt((box.x0 + box.x1) / 2, box.y1 + 34, '2θ (deg)', 16, 'middle', g);
  
  
  const yt = txt(0, 0, 'Intensity (cps)', 16, 'middle', g);
  yt.setAttribute('transform', 'translate(' + (box.x0 - 14) + ',' + ((box.y0 + box.y1) / 2) + ') rotate(-90)');
  
  
  txt(box.x0 + 5, box.y0 + 17, title, 12, 'start', g);
  const pa = txt(box.x1 - 3, box.y0 + 17, '(a)', 13, 'end', g);
  pa.setAttribute('font-weight', 'bold');
  markPos.forEach((p, i) => {
    const s = markType[i] === 'star' ? '*' : (markType[i] === 'hash' ? '#' : '§');
    const col = markType[i] === 'hash' ? '#1a1ad0' : '#e02020';
    const m = txt(xs(p), ys(markLevel[i]) + (markType[i] === 'star' ? 9 : 4), s, markType[i] === 'star' ? 17 : 13, 'middle', g);
    m.setAttribute('fill', col);
    m.setAttribute('font-weight', 'bold');
    
    
  });
  legend.forEach((L, i) => {
    const t = txt(L.x, L.y, L.s, 14, 'start', g);
    t.setAttribute('fill', L.c);
    
    
  });
}
xrdChart('fig3a', {x0: 1830, x1: 2068, y0: 334, y1: 571}, xrdNPeakPos, xrdNPeakHeight, xrdNBaseline,
  xrdNMarkerPos, xrdNMarkerType, xrdNMarkerLevel, 'Ni on n-type 3C-SiC + 950°C',
  [{x: 2004, y: 394, s: '* Ni₂Si', c: '#e02020'}, {x: 2004, y: 412, s: '# SiC', c: '#1a1ad0'}], [34, 67]);
xrdChart('fig6a', {x0: 2187, x1: 2422, y0: 713, y1: 955}, xrdPPeakPos, xrdPPeakHeight, xrdPBaseline,
  xrdPMarkerPos, xrdPMarkerType, xrdPMarkerLevel, 'Ti/Al/Ni on p-type 3C-SiC + 950°C',
  [{x: 2356, y: 768, s: '§ Al₃Ni₂', c: '#e02020'}, {x: 2356, y: 785, s: '# SiC', c: '#1a1ad0'}], [31, 55, 82]);

[[1908, 633, 1960, 690], [1908, 726, 1960, 712]].forEach(c => {
  const l = mk('line', {x1: c[0], y1: c[1], x2: c[2], y2: c[3], stroke: '#e02020', 'stroke-dasharray': '3,2', 'stroke-width': 1});
  
  
});
mk('rect', {x: 1960, y: 688, width: 18, height: 16, fill: 'none', stroke: '#e02020', 'stroke-dasharray': '3,2'});
[[2257, 1020, 2333, 1067], [2257, 1135, 2333, 1115]].forEach(c => {
  const l = mk('line', {x1: c[0], y1: c[1], x2: c[2], y2: c[3], stroke: '#e02020', 'stroke-dasharray': '3,2', 'stroke-width': 1});
  
  
});
mk('rect', {x: 2333, y: 1067, width: 34, height: 48, fill: 'none', stroke: '#e02020', 'stroke-dasharray': '3,2'});
[[1302, 1420, 242], [1470, 1587, 242], [1781, 1904, 1068], [1946, 2063, 1068]].forEach(a => {
  const l = mk('line', {x1: a[0], y1: a[2], x2: a[1], y2: a[2], stroke: '#111', 'stroke-width': 1.5});
  
  
  mk('path', {d: 'M' + a[0] + ' ' + a[2] + ' l5 -3 v6 z M' + a[1] + ' ' + a[2] + ' l-5 -3 v6 z', fill: '#111'});
});

(function () {
  const box = {x0: 2704, x1: 2922, y0: 541, y1: 756};
  const g = mk('g', {});
  
  
  const xs = lin(250, 500, box.x0, box.x1);
  const ys = v => lin(-6, -3, box.y1, box.y0)(Math.log10(v));
  mk('rect', {x: box.x0, y: box.y0, width: box.x1 - box.x0, height: box.y1 - box.y0, fill: 'none', stroke: '#222', 'stroke-width': 1.2}, g);
  tempTicks.forEach(v => {
    mk('line', {x1: xs(v), y1: box.y1, x2: xs(v), y2: box.y1 - 5, stroke: '#222'}, g);
    const t = txt(xs(v), box.y1 + 17, String(v), 14, 'middle', g);
    
    
  });
  for (let v = 262.5; v < 500; v += 25) mk('line', {x1: xs(v), y1: box.y1, x2: xs(v), y2: box.y1 - 3, stroke: '#222'}, g);
  rhoDecades.forEach(d => {
    const y = lin(-6, -3, box.y1, box.y0)(d);
    mk('line', {x1: box.x0, y1: y, x2: box.x0 + 6, y2: y, stroke: '#222'}, g);
    const t = mk('text', {x: box.x0 - 3, y: y + 5, 'font-size': 13, 'text-anchor': 'end'}, g);
    t.textContent = '1x10';
    const sp = mk('tspan', {dy: -6, 'font-size': 9}, t);
    sp.textContent = String(d);
    
    
    for (let m = 2; m < 10 && d < -3; m++) {
      const ym = lin(-6, -3, box.y1, box.y0)(d + Math.log10(m));
      mk('line', {x1: box.x0, y1: ym, x2: box.x0 + 3, y2: ym, stroke: '#222', 'stroke-width': 0.7}, g);
    }
  });
  const fl = mk('line', {x1: xs(fitTemp[0]), y1: ys(fitRho[0]), x2: xs(fitTemp[1]), y2: ys(fitRho[1]), stroke: '#e02020', 'stroke-width': 1.6}, g);
  
  
  tempK.forEach((T, i) => {
    mk('line', {x1: xs(T), y1: ys(rhoErrUp[i]), x2: xs(T), y2: ys(rhoErrDown[i]), stroke: '#999', 'stroke-width': 0.8}, g);
    mk('line', {x1: xs(T) - 2.5, y1: ys(rhoErrUp[i]), x2: xs(T) + 2.5, y2: ys(rhoErrUp[i]), stroke: '#999', 'stroke-width': 0.8}, g);
    mk('line', {x1: xs(T) - 2.5, y1: ys(rhoErrDown[i]), x2: xs(T) + 2.5, y2: ys(rhoErrDown[i]), stroke: '#999', 'stroke-width': 0.8}, g);
    const p = mk('rect', {x: xs(T) - 2.5, y: ys(rhoC[i]) - 2.5, width: 5, height: 5, fill: '#000'}, g);
    
    
  });
  const l1 = mk('g', {}, g);
  
  
  mk('rect', {x: 2726, y: 555, width: 5, height: 5, fill: '#000'}, l1);
  txt(2747, 562, 'exp. data', 12, 'start', l1);
  const l2 = mk('g', {}, g);
  
  
  mk('line', {x1: 2713, y1: 574, x2: 2743, y2: 574, stroke: '#e02020', 'stroke-width': 1.6}, l2);
  txt(2749, 579, 'TFE (ΦB=0.69, NA=8x10¹⁹cm⁻³)', 11.5, 'start', l2);
  const xt = txt((box.x0 + box.x1) / 2, box.y1 + 34, 'Temperature (K)', 17, 'middle', g);
  
  
  const yt = txt(0, 0, 'ρc (Ωcm²)', 17, 'middle', g);
  yt.setAttribute('transform', 'translate(2650,638) rotate(-90)');
  
  
})();
</script>
</body></html>
